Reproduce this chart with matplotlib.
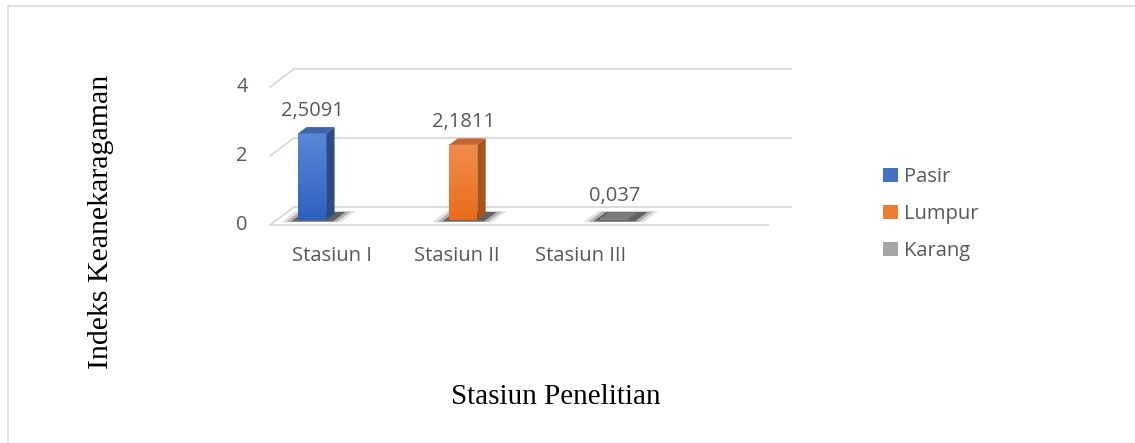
import numpy as np
import matplotlib
matplotlib.use("Agg")
import matplotlib.pyplot as plt
from matplotlib.patches import Polygon, Patch
from matplotlib.colors import to_rgb

# data
categories = ["Stasiun I", "Stasiun II", "Stasiun III", ""]
series = ["Pasir", "Lumpur", "Karang"]
values = [2.5091, 2.1811, 0.037]          # one bar per station
y_ticks = [0, 2, 4]

# colours (front top, front bottom, side, top face)
front_top = ["#5B87D8", "#F28E4E", "#9A9A9A"]
front_bot = ["#2E60C0", "#E96B1B", "#808080"]
side_col = ["#2A4A8A", "#A9521A", "#6E6E6E"]
top_col = ["#3F62A8", "#BF6634", "#7A7A7A"]
legend_col = ["#4472C4", "#ED7D31", "#A5A5A5"]
grid_col = "#D9D9D9"
txt_col = "#595959"

W, H = 1135, 443
fig = plt.figure(figsize=(W / 100, H / 100), dpi=100)

# plot area (front plane): x 270..767.5 px, y=0 at 225 px, 34.5 px per unit
ymax = 4.6
ax = fig.add_axes([270 / W, (H - 225) / H, 497.5 / W, 34.5 * ymax / H])
ax.set_xlim(-0.5, len(categories) - 0.5)
ax.set_ylim(0, ymax)
ax.axis("off")

DX, DY = 24 / 124.4, 18 / 34.5     # depth offset of the back wall
bw = 0.225                          # bar width
f0, fd = 0.28, 0.35                 # bar front depth, bar thickness
slot = 0.215

# back wall gridlines + left diagonals
for v in y_ticks:
    ax.plot([-0.5 + DX, len(categories) - 0.5 + DX], [v + DY, v + DY],
            color=grid_col, lw=1.3, clip_on=False, zorder=1)
    ax.plot([-0.5, -0.5 + DX], [v, v + DY], color=grid_col, lw=1.3,
            clip_on=False, zorder=1)
# front baseline
ax.plot([-0.5, len(categories) - 0.5], [0, 0], color=grid_col, lw=1.3,
        clip_on=False, zorder=1)

for i, v in enumerate(values):
    c = i + (i - 1) * slot
    x0 = c - bw / 2 + f0 * DX
    x1 = c + bw / 2 + f0 * DX
    y0 = f0 * DY
    yt = v + f0 * DY
    ddx, ddy = fd * DX, fd * DY

    # soft shadow on the floor
    for k, a in [(0.05, 0.15), (0.025, 0.3), (0.0, 0.7)]:
        fa, fb = 0.2 - k, 0.72 + k
        sx0 = c - bw / 2 - 0.04 - k * 1.5
        sx1 = c + bw / 2 + 0.07 + k * 1.5
        ax.add_patch(Polygon([(sx0 + fa * DX, fa * DY), (sx1 + fa * DX, fa * DY),
                              (sx1 + fb * DX, fb * DY), (sx0 + fb * DX, fb * DY)],
                             closed=True, facecolor="#404040", edgecolor="none",
                             alpha=a, zorder=2, clip_on=False, antialiased=True))

    # front face with vertical gradient
    t = np.linspace(0, 1, 64)[:, None]
    ct, cb = np.array(to_rgb(front_top[i])), np.array(to_rgb(front_bot[i]))
    grad = (ct * (1 - t[..., None]) + cb * t[..., None])
    ax.imshow(grad, extent=[x0, x1, y0, yt], aspect="auto", origin="upper",
              zorder=4, interpolation="bilinear", clip_on=False)
    # side face
    ax.add_patch(Polygon([(x1, y0), (x1 + ddx, y0 + ddy), (x1 + ddx, yt + ddy), (x1, yt)],
                         closed=True, facecolor=side_col[i], edgecolor="none", zorder=3,
                         clip_on=False))
    # top face
    ax.add_patch(Polygon([(x0, yt), (x1, yt), (x1 + ddx, yt + ddy), (x0 + ddx, yt + ddy)],
                         closed=True, facecolor=top_col[i], edgecolor="none", zorder=5,
                         clip_on=False))
    # data label
    ax.annotate(f"{v}".replace(".", ","), ((x0 + x1) / 2, yt), xytext=(0, 16),
                textcoords="offset points", ha="center", va="center",
                fontsize=14.5, color=txt_col, family="Open Sans", zorder=6)

ax.set_xlim(-0.5, len(categories) - 0.5)
ax.set_ylim(0, ymax)

# value axis labels
for v in y_ticks:
    ax.text(-0.725, v, str(v), ha="center", va="center", fontsize=14.5,
            color=txt_col, family="Open Sans")

# category labels
for i, name in enumerate(categories):
    ax.text(i, -0.9, name, ha="center", va="center", fontsize=14.5,
            color=txt_col, family="Open Sans")

# legend
handles = [Patch(facecolor=legend_col[i], label=series[i]) for i in range(len(series))]
fig.legend(handles=handles, loc="center left", bbox_to_anchor=(883 / W, 1 - 214 / H),
           frameon=False, handlelength=0.72, handleheight=0.72,
           handletextpad=0.3, labelspacing=0.85, borderpad=0, borderaxespad=0,
           labelcolor=txt_col, prop={"family": "Open Sans", "size": 14.5})

# axis titles
fig.text(101 / W, 1 - 222 / H, "Indeks Keanekaragaman", rotation=90, ha="center",
         va="center", fontsize=21.5, family="Liberation Serif", color="black")
fig.text(556 / W, 1 - 397 / H, "Stasiun Penelitian", ha="center", va="center",
         fontsize=21, family="Liberation Serif", color="black")

# outer frame
fig.add_artist(plt.Line2D([7.5 / W, 1], [1 - 6 / H, 1 - 6 / H], color=grid_col, lw=1.2,
                          transform=fig.transFigure))
fig.add_artist(plt.Line2D([7.5 / W, 7.5 / W], [0, 1 - 6 / H], color=grid_col, lw=1.2,
                          transform=fig.transFigure))

fig.savefig("out.png", dpi=100)
